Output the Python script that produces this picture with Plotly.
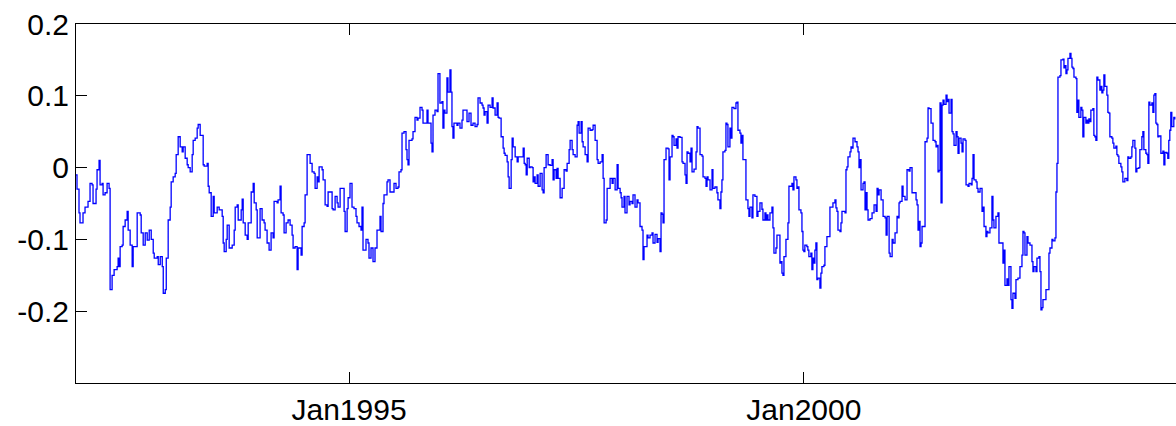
import pandas as pd
import plotly.graph_objects as go

# Observations per calendar year: (fraction of the year elapsed, value)
y1992 = [(0.000, -0.010), (0.011, -0.030), (0.033, -0.063), (0.044, -0.077), (0.077, -0.063),
         (0.099, -0.055), (0.132, -0.047), (0.154, -0.022), (0.176, -0.024), (0.187, -0.050),
         (0.220, -0.030), (0.231, -0.003), (0.253, 0.010), (0.264, -0.024), (0.286, -0.022),
         (0.297, -0.038), (0.319, -0.035), (0.341, -0.022), (0.363, -0.029), (0.374, -0.170),
         (0.396, -0.150), (0.418, -0.142), (0.451, -0.138), (0.462, -0.126), (0.473, -0.138),
         (0.484, -0.110), (0.506, -0.108), (0.517, -0.082), (0.539, -0.073), (0.561, -0.061),
         (0.572, -0.087), (0.594, -0.108), (0.616, -0.138), (0.627, -0.110), (0.671, -0.063),
         (0.704, -0.066), (0.715, -0.091), (0.737, -0.108), (0.759, -0.091), (0.781, -0.101),
         (0.803, -0.087), (0.825, -0.100), (0.847, -0.119), (0.858, -0.126), (0.891, -0.124),
         (0.902, -0.135), (0.924, -0.124), (0.946, -0.138), (0.957, -0.175), (0.979, -0.170),
         (0.990, -0.126)]

y1993 = [(0.011, -0.073), (0.033, -0.055), (0.044, -0.020), (0.066, -0.013), (0.088, -0.008),
         (0.099, 0.018), (0.121, 0.043), (0.143, 0.029), (0.165, 0.022), (0.176, 0.029),
         (0.198, 0.013), (0.220, 0.004), (0.231, 0.000), (0.253, -0.006), (0.275, 0.018),
         (0.286, 0.038), (0.308, 0.041), (0.330, 0.055), (0.341, 0.060), (0.363, 0.045),
         (0.396, 0.004), (0.407, 0.002), (0.440, 0.006), (0.451, -0.026), (0.462, -0.035),
         (0.484, -0.068), (0.506, -0.040), (0.517, -0.063), (0.550, -0.055), (0.572, -0.059),
         (0.605, -0.068), (0.616, -0.105), (0.627, -0.117), (0.649, -0.100), (0.660, -0.080),
         (0.682, -0.112), (0.715, -0.108), (0.737, -0.087), (0.748, -0.055), (0.770, -0.052),
         (0.781, -0.073), (0.814, -0.059), (0.825, -0.044), (0.836, -0.077), (0.858, -0.094),
         (0.880, -0.100), (0.891, -0.077), (0.924, -0.034), (0.946, -0.022), (0.957, -0.049),
         (0.979, -0.059), (0.990, -0.098)]

y1994 = [(0.022, -0.057), (0.044, -0.073), (0.066, -0.077), (0.077, -0.087), (0.099, -0.105),
         (0.121, -0.115), (0.143, -0.091), (0.165, -0.098), (0.176, -0.047), (0.209, -0.049),
         (0.220, -0.045), (0.242, -0.026), (0.253, -0.063), (0.275, -0.066), (0.286, -0.091),
         (0.308, -0.077), (0.330, -0.073), (0.352, -0.080), (0.374, -0.094), (0.385, -0.112),
         (0.407, -0.110), (0.429, -0.142), (0.440, -0.112), (0.473, -0.122), (0.484, -0.082),
         (0.506, -0.077), (0.517, -0.038), (0.539, 0.018), (0.561, 0.018), (0.572, 0.006),
         (0.594, -0.006), (0.616, -0.008), (0.627, -0.029), (0.649, -0.013), (0.660, -0.020),
         (0.671, 0.001), (0.704, -0.003), (0.715, -0.017), (0.737, -0.052), (0.759, -0.054),
         (0.770, -0.034), (0.792, -0.034), (0.814, -0.057), (0.825, -0.059), (0.847, -0.040),
         (0.869, -0.049), (0.880, -0.055), (0.902, -0.029), (0.935, -0.029), (0.946, -0.061),
         (0.957, -0.089), (0.979, -0.057), (0.990, -0.042)]

y1995 = [(0.011, -0.022), (0.033, -0.055), (0.055, -0.057), (0.077, -0.068), (0.088, -0.077),
         (0.110, -0.082), (0.132, -0.087), (0.143, -0.055), (0.154, -0.115), (0.187, -0.100),
         (0.209, -0.105), (0.220, -0.126), (0.242, -0.112), (0.264, -0.131), (0.286, -0.112),
         (0.308, -0.087), (0.330, -0.087), (0.341, -0.068), (0.352, -0.089), (0.374, -0.050),
         (0.385, -0.038), (0.418, -0.020), (0.429, -0.017), (0.451, -0.034), (0.484, -0.034),
         (0.495, -0.022), (0.517, -0.029), (0.539, -0.027), (0.550, -0.006), (0.572, -0.003),
         (0.583, 0.048), (0.605, 0.050), (0.627, 0.025), (0.638, 0.011), (0.649, 0.004),
         (0.660, 0.038), (0.693, 0.040), (0.704, 0.050), (0.726, 0.070), (0.748, 0.066),
         (0.759, 0.069), (0.781, 0.084), (0.803, 0.080), (0.814, 0.062), (0.836, 0.062),
         (0.858, 0.080), (0.869, 0.062), (0.891, 0.062), (0.902, 0.034), (0.913, 0.022),
         (0.924, 0.073), (0.946, 0.080), (0.968, 0.078), (0.979, 0.131)]

y1996 = [(0.000, 0.090), (0.022, 0.092), (0.033, 0.055), (0.044, 0.080), (0.055, 0.076),
         (0.077, 0.125), (0.088, 0.105), (0.110, 0.136), (0.121, 0.105), (0.132, 0.057),
         (0.143, 0.041), (0.154, 0.062), (0.187, 0.059), (0.198, 0.062), (0.220, 0.055),
         (0.242, 0.066), (0.253, 0.080), (0.275, 0.080), (0.297, 0.064), (0.319, 0.076),
         (0.341, 0.059), (0.363, 0.062), (0.385, 0.057), (0.407, 0.060), (0.418, 0.097),
         (0.440, 0.090), (0.462, 0.087), (0.473, 0.083), (0.484, 0.073), (0.495, 0.078),
         (0.517, 0.062), (0.528, 0.087), (0.550, 0.084), (0.572, 0.097), (0.583, 0.083),
         (0.605, 0.073), (0.627, 0.090), (0.638, 0.070), (0.649, 0.069), (0.671, 0.043),
         (0.682, 0.043), (0.693, 0.027), (0.704, 0.020), (0.715, 0.017), (0.737, 0.008),
         (0.748, -0.013), (0.759, -0.029), (0.781, 0.011), (0.792, 0.041), (0.803, 0.029),
         (0.825, 0.015), (0.847, 0.008), (0.858, 0.015), (0.891, 0.015), (0.913, 0.027),
         (0.924, 0.006), (0.935, 0.004), (0.946, -0.010), (0.957, 0.013), (0.979, 0.000),
         (0.990, 0.001)]

y1997 = [(0.011, 0.000), (0.022, -0.020), (0.033, -0.013), (0.044, -0.022), (0.066, -0.010),
         (0.077, -0.026), (0.099, -0.008), (0.121, -0.031), (0.132, -0.035), (0.143, 0.000),
         (0.165, 0.018), (0.187, 0.004), (0.209, 0.003), (0.231, 0.011), (0.242, -0.017),
         (0.253, -0.003), (0.275, -0.015), (0.286, -0.001), (0.297, -0.015), (0.319, -0.042),
         (0.341, -0.029), (0.352, -0.029), (0.363, -0.003), (0.385, -0.005), (0.396, 0.006),
         (0.418, 0.025), (0.429, 0.038), (0.451, 0.025), (0.462, 0.018), (0.484, 0.015),
         (0.506, 0.059), (0.517, 0.064), (0.528, 0.048), (0.550, 0.064), (0.561, 0.036),
         (0.572, 0.029), (0.594, 0.018), (0.616, 0.008), (0.627, 0.055), (0.649, 0.052),
         (0.671, 0.053), (0.682, 0.059), (0.704, 0.038), (0.726, 0.011), (0.737, 0.006),
         (0.759, 0.008), (0.781, 0.018), (0.792, -0.015), (0.803, -0.077), (0.825, -0.073),
         (0.836, -0.029), (0.858, -0.029), (0.869, -0.015), (0.891, -0.022), (0.902, -0.015),
         (0.924, -0.031), (0.946, 0.004), (0.957, -0.029), (0.979, -0.035), (0.990, -0.042)]

y1998 = [(0.000, -0.055), (0.022, -0.040), (0.033, -0.063), (0.055, -0.040), (0.077, -0.052),
         (0.088, -0.047), (0.110, -0.050), (0.121, -0.038), (0.143, -0.055), (0.165, -0.045),
         (0.176, -0.049), (0.198, -0.082), (0.220, -0.087), (0.231, -0.128), (0.242, -0.110),
         (0.275, -0.094), (0.286, -0.098), (0.308, -0.094), (0.330, -0.091), (0.341, -0.105),
         (0.363, -0.093), (0.385, -0.104), (0.396, -0.099), (0.418, -0.117), (0.429, -0.063),
         (0.440, -0.065), (0.451, -0.077), (0.462, 0.011), (0.484, 0.027), (0.506, 0.026),
         (0.517, -0.017), (0.528, 0.015), (0.550, 0.045), (0.561, 0.043), (0.572, 0.031),
         (0.594, 0.040), (0.605, 0.027), (0.616, 0.043), (0.638, 0.042), (0.660, 0.008),
         (0.671, 0.006), (0.693, -0.010), (0.704, -0.022), (0.715, 0.022), (0.726, 0.020),
         (0.748, 0.008), (0.759, 0.027), (0.770, -0.006), (0.792, -0.002), (0.814, 0.022),
         (0.825, 0.057), (0.836, 0.055), (0.858, 0.018), (0.880, 0.016), (0.891, -0.013),
         (0.913, -0.015), (0.924, -0.026), (0.935, -0.013), (0.946, -0.017), (0.968, -0.031),
         (0.990, -0.003)]

y1999 = [(0.000, -0.029), (0.022, -0.027), (0.044, -0.035), (0.055, -0.045), (0.077, -0.057),
         (0.088, -0.034), (0.099, -0.017), (0.110, 0.022), (0.132, 0.024), (0.143, 0.062),
         (0.154, 0.060), (0.165, 0.029), (0.187, 0.055), (0.198, 0.041), (0.209, 0.084),
         (0.231, 0.082), (0.253, 0.090), (0.264, 0.091), (0.275, 0.052), (0.297, 0.048),
         (0.308, 0.034), (0.319, 0.045), (0.330, 0.011), (0.352, 0.011), (0.363, -0.045),
         (0.385, -0.057), (0.396, -0.068), (0.407, -0.055), (0.429, -0.070), (0.440, -0.038),
         (0.462, -0.040), (0.484, -0.068), (0.495, -0.061), (0.517, -0.049), (0.539, -0.058),
         (0.550, -0.073), (0.572, -0.063), (0.583, -0.073), (0.594, -0.066), (0.605, -0.073),
         (0.627, -0.063), (0.649, -0.055), (0.660, -0.084), (0.671, -0.119), (0.693, -0.112),
         (0.704, -0.094), (0.726, -0.094), (0.737, -0.133), (0.748, -0.131), (0.759, -0.147),
         (0.770, -0.150), (0.781, -0.124), (0.803, -0.100), (0.825, -0.077), (0.836, -0.026),
         (0.858, -0.026), (0.869, -0.022), (0.880, -0.031), (0.891, -0.013), (0.913, -0.017),
         (0.924, -0.029), (0.935, -0.027), (0.946, -0.059), (0.968, -0.063), (0.979, -0.089),
         (0.990, -0.115)]

y2000 = [(0.000, -0.117), (0.011, -0.108), (0.033, -0.110), (0.044, -0.115), (0.055, -0.124),
         (0.077, -0.119), (0.088, -0.142), (0.099, -0.126), (0.110, -0.133), (0.121, -0.115),
         (0.132, -0.105), (0.143, -0.156), (0.154, -0.154), (0.176, -0.168), (0.187, -0.147),
         (0.198, -0.138), (0.220, -0.136), (0.231, -0.110), (0.253, -0.096), (0.275, -0.096),
         (0.286, -0.055), (0.308, -0.055), (0.319, -0.049), (0.341, -0.045), (0.352, -0.056),
         (0.363, -0.061), (0.374, -0.087), (0.396, -0.089), (0.407, -0.077), (0.418, -0.061),
         (0.451, -0.063), (0.462, -0.003), (0.473, 0.001), (0.484, 0.015), (0.506, 0.022),
         (0.517, 0.029), (0.528, 0.027), (0.539, 0.041), (0.561, 0.036), (0.583, 0.029),
         (0.594, 0.022), (0.605, 0.000), (0.616, 0.011), (0.627, -0.031), (0.649, -0.022),
         (0.660, -0.020), (0.671, -0.059), (0.682, -0.035), (0.693, -0.059), (0.704, -0.073),
         (0.726, -0.071), (0.748, -0.063), (0.759, -0.063), (0.770, -0.052), (0.792, -0.061),
         (0.803, -0.029), (0.814, -0.038), (0.825, -0.031), (0.847, -0.045), (0.869, -0.068),
         (0.891, -0.070), (0.902, -0.094), (0.913, -0.068), (0.935, -0.119), (0.946, -0.124),
         (0.968, -0.100), (0.979, -0.105)]

y2001 = [(0.000, -0.091), (0.022, -0.068), (0.033, -0.070), (0.044, -0.049), (0.055, -0.047),
         (0.077, -0.026), (0.088, -0.040), (0.110, -0.045), (0.132, -0.003), (0.154, -0.005),
         (0.165, 0.000), (0.187, -0.035), (0.209, -0.035), (0.231, -0.045), (0.242, -0.052),
         (0.253, -0.087), (0.264, -0.075), (0.275, -0.110), (0.286, -0.105), (0.297, -0.082),
         (0.319, -0.082), (0.330, 0.036), (0.352, 0.041), (0.363, 0.083), (0.374, 0.082),
         (0.396, 0.062), (0.407, 0.062), (0.418, 0.038), (0.440, 0.036), (0.451, 0.029),
         (0.462, 0.031), (0.473, -0.006), (0.484, -0.004), (0.495, 0.090), (0.506, -0.049),
         (0.517, 0.087), (0.528, 0.094), (0.539, 0.088), (0.561, 0.101), (0.572, 0.092),
         (0.583, 0.095), (0.594, 0.076), (0.616, 0.095), (0.627, 0.050), (0.638, 0.047),
         (0.649, 0.031), (0.671, 0.050), (0.682, 0.043), (0.693, 0.020), (0.704, 0.041),
         (0.726, 0.034), (0.737, 0.022), (0.748, 0.040), (0.770, 0.038), (0.781, -0.024),
         (0.803, -0.026), (0.814, -0.022), (0.836, -0.024), (0.847, -0.015), (0.858, 0.018),
         (0.869, -0.017), (0.891, -0.020), (0.902, -0.029), (0.913, -0.034), (0.935, -0.029),
         (0.957, -0.061), (0.968, -0.055), (0.979, -0.082)]

y2002 = [(0.000, -0.096), (0.011, -0.089), (0.022, -0.091), (0.044, -0.084), (0.066, -0.040),
         (0.077, -0.073), (0.088, -0.084), (0.110, -0.068), (0.132, -0.063), (0.143, -0.105),
         (0.165, -0.105), (0.187, -0.133), (0.198, -0.115), (0.209, -0.164), (0.231, -0.155),
         (0.242, -0.164), (0.253, -0.138), (0.275, -0.184), (0.286, -0.196), (0.297, -0.175),
         (0.319, -0.182), (0.330, -0.156), (0.352, -0.154), (0.374, -0.138), (0.396, -0.122),
         (0.407, -0.089), (0.418, -0.091), (0.429, -0.122), (0.451, -0.096), (0.462, -0.105),
         (0.484, -0.108), (0.506, -0.131), (0.517, -0.145), (0.528, -0.138), (0.550, -0.145),
         (0.561, -0.126), (0.583, -0.124), (0.594, -0.145), (0.605, -0.198), (0.616, -0.195),
         (0.627, -0.184), (0.649, -0.184), (0.660, -0.170), (0.682, -0.170), (0.693, -0.119),
         (0.704, -0.112), (0.726, -0.100), (0.737, -0.102), (0.759, -0.098), (0.770, -0.034),
         (0.781, 0.006), (0.792, 0.126), (0.814, 0.128), (0.825, 0.150), (0.847, 0.151),
         (0.858, 0.139), (0.869, 0.142), (0.880, 0.131), (0.891, 0.136), (0.902, 0.152),
         (0.924, 0.159), (0.935, 0.152), (0.946, 0.140), (0.957, 0.138), (0.968, 0.126),
         (0.990, 0.124)]

y2003 = [(0.000, 0.077), (0.011, 0.094), (0.022, 0.070), (0.044, 0.084), (0.055, 0.080),
         (0.066, 0.043), (0.077, 0.070), (0.099, 0.062), (0.110, 0.066), (0.121, 0.062),
         (0.132, 0.068), (0.143, 0.064), (0.154, 0.080), (0.176, 0.082), (0.187, 0.045),
         (0.198, 0.043), (0.209, 0.038), (0.220, 0.126), (0.231, 0.122), (0.253, 0.108),
         (0.264, 0.113), (0.275, 0.104), (0.286, 0.108), (0.297, 0.129), (0.308, 0.113),
         (0.330, 0.101), (0.341, 0.077), (0.352, 0.076), (0.363, 0.043), (0.385, 0.041),
         (0.396, 0.034), (0.407, 0.027), (0.429, 0.030), (0.440, 0.018), (0.451, 0.016),
         (0.462, 0.006), (0.484, 0.001), (0.495, -0.006), (0.506, -0.020), (0.528, -0.015),
         (0.550, -0.018), (0.561, 0.015), (0.572, 0.013), (0.594, 0.015), (0.605, 0.029),
         (0.616, 0.038), (0.638, 0.027), (0.649, -0.006), (0.660, -0.001), (0.682, 0.000),
         (0.693, 0.025), (0.715, 0.043), (0.726, 0.050), (0.737, 0.025), (0.759, 0.020),
         (0.770, 0.018), (0.781, 0.006), (0.792, 0.091), (0.803, 0.087), (0.825, 0.090),
         (0.836, 0.077), (0.847, 0.101), (0.858, 0.103), (0.869, 0.062), (0.880, 0.060),
         (0.891, 0.043), (0.902, 0.044), (0.924, 0.020), (0.935, 0.020), (0.946, 0.023),
         (0.957, 0.004), (0.968, 0.021), (0.990, 0.020)]

y2004 = [(0.000, 0.013), (0.011, 0.038), (0.022, 0.052), (0.033, 0.077), (0.044, 0.057),
         (0.066, 0.070), (0.077, 0.067)]

yearly = [(1992, y1992), (1993, y1993), (1994, y1994), (1995, y1995), (1996, y1996),
          (1997, y1997), (1998, y1998), (1999, y1999), (2000, y2000), (2001, y2001),
          (2002, y2002), (2003, y2003), (2004, y2004)]

x_start, x_end = 1992.0, 2004.09
y_ticks = [-0.2, -0.1, 0, 0.1, 0.2]
y_tick_text = ["-0.2", "-0.1", "0", "0.1", "0.2"]
x_tick_years = [1995, 2000]
x_tick_text = ["Jan1995", "Jan2000"]


def year_fraction_to_date(year, frac):
    start = pd.Timestamp(year=year, month=1, day=1)
    end = pd.Timestamp(year=year + 1, month=1, day=1)
    return start + (end - start) * frac


def decimal_to_date(t):
    y = int(t)
    return year_fraction_to_date(y, t - y)


dates, values = [], []
for year, rows in yearly:
    for frac, v in rows:
        dates.append(year_fraction_to_date(year, frac))
        values.append(v)

fig = go.Figure(
    go.Scatter(x=dates, y=values, mode="lines",
               line=dict(color="rgb(0,0,255)", width=1.3, shape="hv"), hoverinfo="skip")
)

axis_font = dict(family="Liberation Sans, Arial, sans-serif", size=30, color="black")

fig.update_layout(
    width=1176, height=426,
    margin=dict(l=76, r=0, t=24, b=43),
    paper_bgcolor="white", plot_bgcolor="white",
    showlegend=False,
    font=axis_font,
)

fig.update_xaxes(
    type="date",
    range=[decimal_to_date(x_start), decimal_to_date(x_end)],
    tickvals=[pd.Timestamp(year=y, month=1, day=1) for y in x_tick_years],
    ticktext=x_tick_text,
    ticks="inside", ticklen=11, tickwidth=1, tickcolor="black",
    showline=True, linecolor="black", linewidth=1, mirror="ticks",
    showgrid=False, zeroline=False, tickfont=axis_font,
)

fig.update_yaxes(
    range=[-0.3, 0.2],
    tickvals=y_ticks, ticktext=y_tick_text,
    ticks="inside", ticklen=11, tickwidth=1, tickcolor="black",
    showline=True, linecolor="black", linewidth=1, mirror=False,
    showgrid=False, zeroline=False, tickfont=axis_font,
)

fig.write_html("out.html")
